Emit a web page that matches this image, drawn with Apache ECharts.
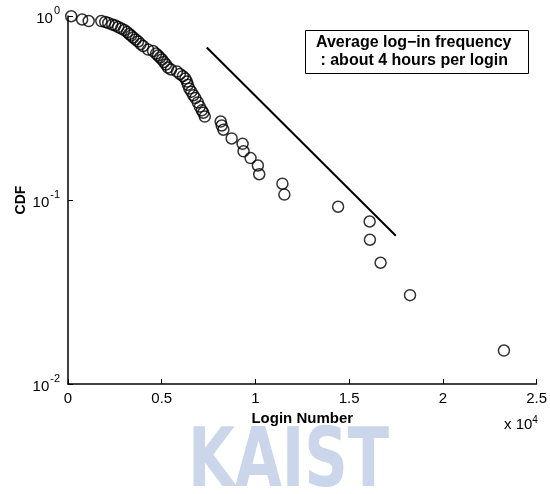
<!DOCTYPE html>
<html>
<head>
<meta charset="utf-8">
<script src="https://cdn.jsdelivr.net/npm/echarts@6/dist/echarts.min.js"></script>
<style>
  html, body { margin: 0; padding: 0; background: #fff; }
  #chart { width: 550px; height: 494px; }
</style>
</head>
<body>
<div id="chart"></div>
<script>
// login number per user vs CDF
var loginNumber = [170, 754, 1104, 1778, 1990, 2150, 2362, 2521, 2680, 2840,
  2999, 3158, 3264, 3370, 3477, 3609, 3742, 3875, 4007, 4273,
  4538, 4697, 4804, 4910, 5016, 5122, 5228, 5334, 5494, 5812,
  5971, 6130, 6263, 6343, 6396, 6476, 6582, 6688, 6794, 6927,
  7033, 7139, 7219, 7298, 8147, 8201, 8291, 8732, 9315, 9368,
  9740, 10130, 10203, 11439, 11544, 14411, 16093, 16109, 16677, 18248, 23259];
var cdf = [0.997, 0.957, 0.939, 0.939, 0.928, 0.916, 0.899, 0.888, 0.871, 0.855,
  0.839, 0.818, 0.798, 0.783, 0.764, 0.745, 0.727, 0.704, 0.687, 0.657,
  0.645, 0.625, 0.610, 0.594, 0.580, 0.562, 0.545, 0.525, 0.512, 0.499,
  0.484, 0.471, 0.457, 0.440, 0.423, 0.403, 0.388, 0.371, 0.358, 0.339,
  0.322, 0.307, 0.298, 0.284, 0.267, 0.254, 0.241, 0.216, 0.202, 0.184,
  0.169, 0.154, 0.138, 0.1226, 0.107, 0.0919, 0.0764, 0.0608, 0.0456, 0.0304, 0.0152];
// reference line
var fitX = [7404, 17490];
var fitY = [0.674, 0.0639];

var points = loginNumber.map(function (x, i) { return [x, cdf[i]]; });
var fitLine = fitX.map(function (x, i) { return [x, fitY[i]]; });

var font = '"Liberation Sans", Arial, sans-serif';

var option = {
  animation: false,
  backgroundColor: '#fff',
  grid: { left: 68, right: 11, top: 16, bottom: 110 },
  xAxis: {
    type: 'value',
    min: 0, max: 25000, interval: 5000,
    name: 'Login Number',
    nameLocation: 'middle',
    nameGap: 26,
    nameTextStyle: { fontFamily: font, fontWeight: 'bold', fontSize: 15, color: '#000' },
    axisLine: { lineStyle: { color: '#000', width: 1.5 } },
    axisTick: { inside: true, length: 5, lineStyle: { color: '#000' } },
    splitLine: { show: false },
    axisLabel: {
      fontFamily: font, fontSize: 15, color: '#000', margin: 7,
      formatter: function (v) { return String(v / 10000); }
    }
  },
  yAxis: {
    type: 'log',
    logBase: 10,
    min: 0.01, max: 1,
    name: 'CDF',
    nameLocation: 'middle',
    nameGap: 40,
    nameMoveOverlap: false,
    nameRotate: 90,
    nameTextStyle: { fontFamily: font, fontWeight: 'bold', fontSize: 14, color: '#000' },
    axisLine: { show: true, lineStyle: { color: '#000', width: 1.5 } },
    axisTick: { inside: true, length: 5, lineStyle: { color: '#000' } },
    splitLine: { show: false },
    axisLabel: {
      margin: 8,
      formatter: function (v) {
        var key = Math.round(Math.log10(v));
        var e = key === 0 ? '0' : String(key);
        return '{b|10}{s|' + e + '}';
      },
      rich: {
        b: { fontFamily: font, fontSize: 15, color: '#000', verticalAlign: 'bottom', lineHeight: 18 },
        s: { fontFamily: font, fontSize: 11, color: '#000', verticalAlign: 'top', padding: [0, 0, 10, 1] }
      }
    }
  },
  series: [
    {
      type: 'scatter',
      data: points,
      symbol: 'circle',
      symbolSize: 11,
      itemStyle: { color: 'rgba(0,0,0,0)', borderColor: '#000', borderWidth: 1.5 }
    },
    {
      type: 'line',
      data: fitLine,
      showSymbol: false,
      lineStyle: { color: '#000', width: 2 }
    }
  ],
  graphic: [
    {
      type: 'rect',
      left: 305, top: 30,
      shape: { width: 223, height: 43 },
      style: { fill: '#fff', stroke: '#000', lineWidth: 1 }
    },
    {
      type: 'text',
      left: 316, top: 34,
      style: {
        text: 'Average log\u2212in frequency\n : about 4 hours per login',
        font: 'bold 16px ' + font,
        lineHeight: 18,
        fill: '#000'
      }
    },
    {
      type: 'text',
      left: 504, top: 415,
      style: {
        text: 'x 10{s|4}',
        font: '15px ' + font,
        fill: '#000',
        rich: { s: { fontSize: 10, fontFamily: font, verticalAlign: 'top', padding: [0, 0, 9, 0] } }
      }
    },
    {
      type: 'text',
      left: 188, top: 424,
      scaleX: 0.82,
      z: -1,
      style: {
        text: 'KAIST',
        font: 'bold 82px "DejaVu Sans Condensed", "Liberation Sans", sans-serif',
        fill: '#cbd6ea'
      }
    }
  ]
};

var chart = echarts.init(document.getElementById('chart'));
chart.setOption(option);
</script>
</body>
</html>
